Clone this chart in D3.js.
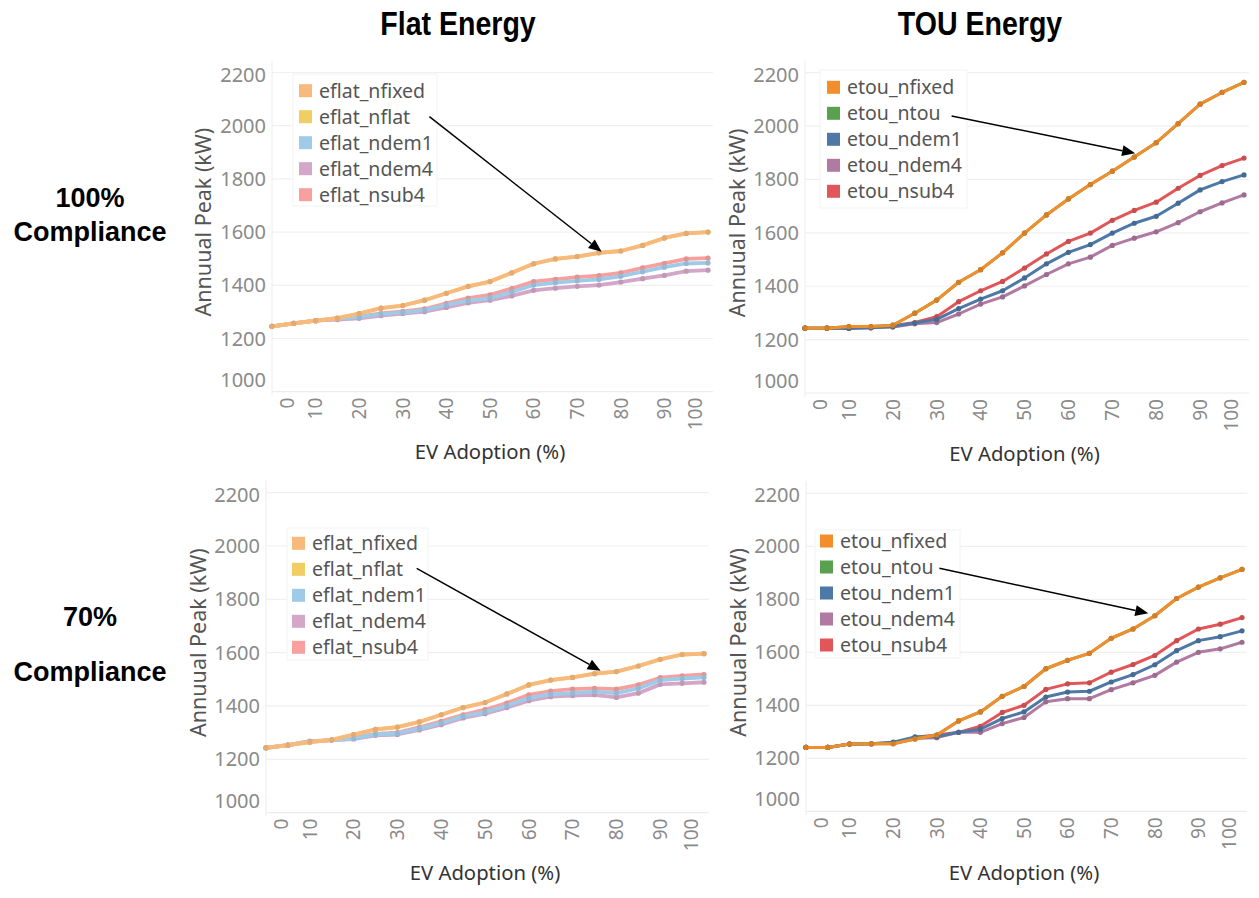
<!DOCTYPE html>
<html><head><meta charset="utf-8">
<script src="https://cdn.jsdelivr.net/npm/d3@7"></script>
<style>
html,body{margin:0;padding:0;background:#fff;}
svg{display:block;}
</style></head>
<body>
<svg id="c" width="1259" height="898"></svg>
<script>
// ---------- DATA ----------
const adoption = [0,5,10,15,20,25,30,35,40,45,50,55,60,65,70,75,80,85,90,95,100];
const xTicks = [0,10,20,30,40,50,60,70,80,90,100];
const yTicks = [1000,1200,1400,1600,1800,2000,2200];

const flatNames = ["eflat_nfixed","eflat_nflat","eflat_ndem1","eflat_ndem4","eflat_nsub4"];
const touNames  = ["etou_nfixed","etou_ntou","etou_ndem1","etou_ndem4","etou_nsub4"];
const flatColors = ["#F8BA7C","#F1CE63","#A0CBE8","#D4A6C8","#F7A09D"];
const touColors  = ["#F28E2B","#59A14F","#4E79A7","#B07AA1","#E15759"];

const colTitles = ["Flat Energy","TOU Energy"];
const rowTitles = [["100%","Compliance"],["70%","Compliance"]];
const yTitle = "Annuual Peak (kW)";
const xTitle = "EV Adoption (%)";

// 100% compliance, flat energy
const flat100_nfixed = [1246,1257,1267,1277,1294,1314,1324,1344,1370,1396,1414,1447,1481,1499,1508,1522,1529,1550,1578,1595,1600];
const flat100_nflat  = [1246,1257,1267,1277,1294,1314,1324,1344,1370,1396,1414,1447,1481,1499,1508,1522,1529,1550,1578,1595,1600];
const flat100_ndem1  = [1246,1257,1267,1275,1280,1292,1298,1307,1326,1342,1352,1375,1401,1410,1417,1422,1434,1451,1468,1482,1484];
const flat100_ndem4  = [1246,1257,1267,1271,1276,1286,1294,1301,1317,1334,1344,1360,1381,1389,1396,1401,1412,1425,1437,1453,1457];
const flat100_nsub4  = [1246,1257,1267,1273,1282,1294,1302,1311,1332,1352,1364,1388,1414,1422,1431,1436,1447,1466,1482,1499,1502];
// 100% compliance, TOU energy
const tou100_nfixed = [1243,1243,1249,1249,1254,1299,1348,1415,1462,1525,1599,1667,1727,1781,1831,1884,1938,2009,2082,2126,2164];
const tou100_ntou   = [1243,1243,1249,1249,1254,1299,1348,1415,1462,1525,1599,1667,1727,1781,1831,1884,1938,2009,2082,2126,2164];
const tou100_ndem1  = [1243,1243,1242,1244,1249,1262,1276,1316,1352,1383,1431,1484,1527,1556,1599,1636,1662,1711,1761,1792,1817];
const tou100_ndem4  = [1243,1243,1243,1244,1247,1259,1264,1296,1333,1360,1401,1444,1484,1509,1553,1580,1604,1638,1679,1712,1742];
const tou100_nsub4  = [1243,1243,1246,1247,1252,1264,1286,1342,1383,1418,1468,1521,1568,1599,1647,1684,1715,1767,1815,1852,1880];
// 70% compliance, flat energy
const flat70_nfixed = [1243,1253,1264,1273,1293,1312,1321,1340,1367,1394,1413,1445,1479,1497,1507,1521,1529,1550,1575,1593,1596];
const flat70_nflat  = [1243,1253,1264,1273,1293,1312,1321,1340,1367,1394,1413,1445,1479,1497,1507,1521,1529,1550,1575,1593,1596];
const flat70_ndem1  = [1243,1253,1266,1272,1278,1293,1297,1315,1336,1361,1377,1401,1429,1444,1448,1454,1448,1466,1497,1503,1507];
const flat70_ndem4  = [1243,1253,1268,1272,1276,1290,1293,1310,1330,1355,1371,1394,1420,1435,1439,1442,1432,1448,1481,1485,1489];
const flat70_nsub4  = [1243,1253,1266,1272,1281,1295,1300,1320,1342,1367,1386,1411,1442,1456,1463,1466,1463,1479,1506,1513,1518];
// 70% compliance, TOU energy
const tou70_nfixed = [1241,1241,1254,1255,1255,1273,1288,1341,1375,1434,1471,1538,1570,1596,1653,1688,1738,1803,1846,1881,1913];
const tou70_ntou   = [1241,1241,1254,1255,1255,1273,1288,1341,1375,1434,1471,1538,1570,1596,1653,1688,1738,1803,1846,1881,1913];
const tou70_ndem1  = [1241,1241,1254,1255,1261,1281,1281,1298,1310,1350,1375,1431,1450,1453,1488,1516,1553,1606,1644,1659,1681];
const tou70_ndem4  = [1241,1241,1254,1255,1258,1276,1278,1298,1298,1331,1354,1413,1425,1425,1459,1485,1513,1563,1600,1613,1638];
const tou70_nsub4  = [1241,1241,1254,1255,1259,1279,1288,1298,1321,1373,1400,1460,1481,1485,1525,1554,1588,1644,1688,1706,1731];

// annotation arrows [adoption %, kW]
const arrowFrom = [[36.1,2034],[33.4,2038],[34.4,1916],[30.6,1917]];
const arrowTo   = [[75.6,1526],[75.2,1898],[76.4,1532],[78.5,1747]];

// ---------- LAYOUT ----------
const panels = [
  {names:flatNames, colors:flatColors, series:[flat100_nfixed,flat100_nflat,flat100_ndem1,flat100_ndem4,flat100_nsub4],
   x0:272,x1:708,yTop:72.5,yBot:391.7, leg:{bx:293,by:74,bw:144,bh:132,sx:299,tx:319,y0:90.7}, yTitleX:203, xTitleY:452, light:true},
  {names:touNames, colors:touColors, series:[tou100_nfixed,tou100_ntou,tou100_ndem1,tou100_ndem4,tou100_nsub4],
   x0:805,x1:1244,yTop:72.7,yBot:393, leg:{bx:820,by:70,bw:147,bh:138,sx:827,tx:847,y0:87.3}, yTitleX:737, xTitleY:454, light:false},
  {names:flatNames, colors:flatColors, series:[flat70_nfixed,flat70_nflat,flat70_ndem1,flat70_ndem4,flat70_nsub4],
   x0:266,x1:704,yTop:492.7,yBot:812.6, leg:{bx:287,by:528,bw:141,bh:132,sx:292,tx:312,y0:543.3}, yTitleX:198, xTitleY:873, light:true},
  {names:touNames, colors:touColors, series:[tou70_nfixed,tou70_ntou,tou70_ndem1,tou70_ndem4,tou70_nsub4],
   x0:806,x1:1242,yTop:493.3,yBot:811.3, leg:{bx:815,by:530,bw:145,bh:128,sx:820,tx:840,y0:541}, yTitleX:738, xTitleY:873, light:false}
];

const svg = d3.select("#c");
const FONT = "'Noto Sans', 'Open Sans', sans-serif";

panels.forEach((p, pi) => {
  const x = d3.scaleLinear().domain([0,100]).range([p.x0,p.x1]);
  const y = d3.scaleLinear().domain([1000,2200]).range([p.yBot,p.yTop]);
  const g = svg.append("g");

  // gridlines
  g.append("g").selectAll("line").data(yTicks.slice(1)).join("line")
    .attr("x1",p.x0).attr("x2",p.x1+5).attr("y1",d=>y(d)).attr("y2",d=>y(d))
    .attr("stroke","#f0f0f0").attr("stroke-width",1.2);
  // axis frame lines
  g.append("line").attr("x1",p.x0).attr("x2",p.x1+5).attr("y1",y(1000)).attr("y2",y(1000))
    .attr("stroke","#ececec").attr("stroke-width",1.2);
  g.append("line").attr("x1",p.x0).attr("x2",p.x0).attr("y1",p.yTop-12).attr("y2",y(1000)+4)
    .attr("stroke","#f0f0f0").attr("stroke-width",1.2);

  // y axis
  const ya = g.append("g").attr("transform",`translate(${p.x0-6},0)`)
    .call(d3.axisLeft(y).tickValues(yTicks).tickSize(0).tickPadding(0).tickFormat(d3.format("d")));
  ya.select(".domain").remove();
  ya.selectAll(".tick").attr("transform", d => {
    const yy = Math.max(Math.min(y(d), y(1000)-12), y(2200)+2);
    return `translate(0,${yy})`;
  });
  ya.selectAll("text").attr("font-family",FONT).attr("font-size",20).attr("fill","#8a8a8a").attr("dy","0.35em");

  // x axis
  const xa = g.append("g").attr("transform",`translate(0,${y(1000)+6})`)
    .call(d3.axisBottom(x).tickValues(xTicks).tickSize(0).tickPadding(0));
  xa.select(".domain").remove();
  xa.selectAll(".tick").attr("transform", d => {
    const xx = Math.max(Math.min(x(d), p.x1-13), p.x0+15);
    return `translate(${xx},0)`;
  });
  xa.selectAll("text").attr("font-family",FONT).attr("font-size",19).attr("fill","#8a8a8a")
    .attr("transform","rotate(-90)").attr("text-anchor","end").attr("x",0).attr("y",0).attr("dy","0.36em");

  // lines: draw in reverse legend order so first is on top
  const line = d3.line().x((d,i)=>x(adoption[i])).y(d=>y(d));
  for (let k = p.series.length-1; k >= 0; k--) {
    const vals = p.series[k];
    const col = p.colors[k];
    g.append("path").datum(vals).attr("d",line).attr("fill","none")
      .attr("stroke",col).attr("stroke-width",p.light?3.8:3).attr("stroke-linejoin","round");
    g.append("g").selectAll("circle").data(vals).join("circle")
      .attr("cx",(d,i)=>x(adoption[i])).attr("cy",d=>y(d)).attr("r",2.6)
      .attr("fill",d3.color(col).darker(p.light?0.25:0.35));
  }

  // legend
  const L = p.leg;
  g.append("rect").attr("x",L.bx).attr("y",L.by).attr("width",L.bw).attr("height",L.bh)
    .attr("fill","#fff").attr("stroke","#f3f3f3");
  p.names.forEach((n,k) => {
    const cy = L.y0 + k*26;
    g.append("rect").attr("x",L.sx).attr("y",cy-6.5).attr("width",13).attr("height",13).attr("fill",p.colors[k]);
    g.append("text").attr("x",L.tx).attr("y",cy).attr("dy","0.35em").text(n)
      .attr("font-family",FONT).attr("font-size",19.5).attr("fill","#555");
  });

  // arrow
  const a0 = arrowFrom[pi], a1 = arrowTo[pi];
  const X0 = x(a0[0]), Y0 = y(a0[1]), X1 = x(a1[0]), Y1 = y(a1[1]);
  const ang = Math.atan2(Y1-Y0, X1-X0);
  const hl = 13, hw = 5.5;
  const bxp = X1 - hl*Math.cos(ang), byp = Y1 - hl*Math.sin(ang);
  g.append("line").attr("x1",X0).attr("y1",Y0).attr("x2",bxp).attr("y2",byp)
    .attr("stroke","#000").attr("stroke-width",1.5);
  g.append("path").attr("d",`M${X1},${Y1}L${bxp - hw*Math.sin(ang)},${byp + hw*Math.cos(ang)}L${bxp + hw*Math.sin(ang)},${byp - hw*Math.cos(ang)}Z`)
    .attr("fill","#000");

  // axis titles
  const ymid = (p.yTop + p.yBot)/2 - 10;
  g.append("text").attr("transform",`translate(${p.yTitleX},${ymid}) rotate(-90)`)
    .attr("text-anchor","middle").attr("dy","0.35em").text(yTitle)
    .attr("font-family",FONT).attr("font-size",21.5).attr("fill","#555");
  g.append("text").attr("x",(p.x0+p.x1)/2).attr("y",p.xTitleY).attr("dy","0.35em")
    .attr("text-anchor","middle").text(xTitle)
    .attr("font-family",FONT).attr("font-size",20.3).attr("fill","#333");
});

// column titles
const colX = [458, 980];
colTitles.forEach((t,i) => {
  svg.append("text").attr("transform",`translate(${colX[i]},23) scale(0.84,1)`).attr("dy","0.35em").attr("text-anchor","middle")
    .text(t).attr("font-family","'Liberation Sans',Arial,sans-serif")
    .attr("font-weight","bold").attr("font-size",34).attr("fill","#000");
});
// row titles
const rowY = [[198,232],[617,672]];
rowTitles.forEach((r,i) => {
  r.forEach((t,j) => {
    svg.append("text").attr("x",90).attr("y",rowY[i][j]).attr("dy","0.35em").attr("text-anchor","middle")
      .text(t).attr("font-family","'Liberation Sans',Arial,sans-serif").attr("font-weight","bold")
      .attr("font-size",27).attr("fill","#000");
  });
});
</script>
</body></html>
